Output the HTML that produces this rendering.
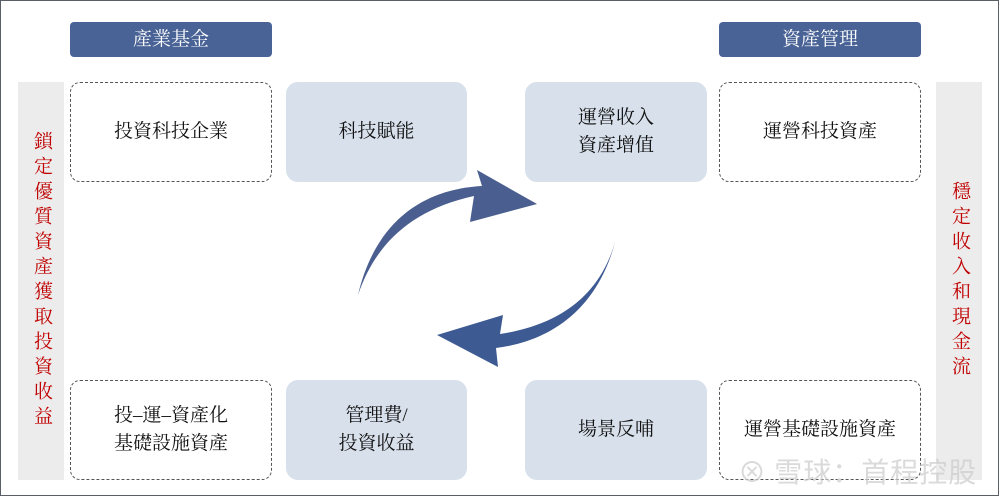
<!DOCTYPE html>
<html><head><meta charset="utf-8"><style>
body{margin:0;width:1000px;height:498px;background:#fff;position:relative;overflow:hidden;font-family:"Liberation Serif","Noto Serif CJK SC","Noto Sans CJK TC",serif;}
.frame{position:absolute;left:0;top:0;width:997px;height:494px;border:1.5px solid #5a5f66;}
.b{position:absolute;display:flex;align-items:center;justify-content:center;text-align:center;font-size:19px;color:#111;line-height:28px;box-sizing:border-box;}
.hd{background:#4a6396;color:#fff;border-radius:4px;font-size:19px;}
.ds{border:1.5px dashed #555;border-radius:10px;}
.fl{background:#d7e0eb;border-radius:12px;}
.sd{background:#ececec;color:#c00000;font-size:19px;line-height:26px;writing-mode:vertical-rl;letter-spacing:6px;}
.wm{position:absolute;left:738px;top:451px;font-family:"Noto Sans CJK SC",sans-serif;font-size:28px;color:rgba(205,205,205,0.75);letter-spacing:1px;}
</style></head><body>
<div class="frame"></div>
<div class="b hd" style="left:70px;top:22px;width:202px;height:35px">產業基金</div>
<div class="b hd" style="left:719px;top:22px;width:202px;height:35px">資產管理</div>
<div class="b sd" style="left:18px;top:82px;width:46px;height:398px">鎖定優質資產獲取投資收益</div>
<div class="b sd" style="left:936px;top:82px;width:46px;height:398px">穩定收入和現金流</div>
<div class="b ds" style="left:70px;top:82px;width:202px;height:100px">投資科技企業</div>
<div class="b ds" style="left:719px;top:82px;width:202px;height:100px">運營科技資產</div>
<div class="b ds" style="left:70px;top:380px;width:202px;height:100px">投–運–資產化<br>基礎設施資產</div>
<div class="b ds" style="left:719px;top:380px;width:202px;height:100px">運營基礎設施資產</div>
<div class="b fl" style="left:286px;top:82px;width:181px;height:100px">科技賦能</div>
<div class="b fl" style="left:525px;top:82px;width:182px;height:100px">運營收入<br>資產增值</div>
<div class="b fl" style="left:286px;top:380px;width:181px;height:100px">管理費/<br>投資收益</div>
<div class="b fl" style="left:525px;top:380px;width:182px;height:100px">場景反哺</div>
<svg width="1000" height="498" style="position:absolute;left:0;top:0">
<path d="M358,295 C375,245 410,210 474,196 L470,222 L537,204 L477,170 L482,186 C410,190 372,235 358,295 Z" fill="#4a5f8f"/>
<path d="M615,242 C600,295 560,325 500,334 L503,315 L437,335 L498,367 L496,348 C560,340 600,300 615,242 Z" fill="#3d5a92"/>
</svg>
<div class="wm">⊗ 雪球：首程控股</div>
</body></html>
